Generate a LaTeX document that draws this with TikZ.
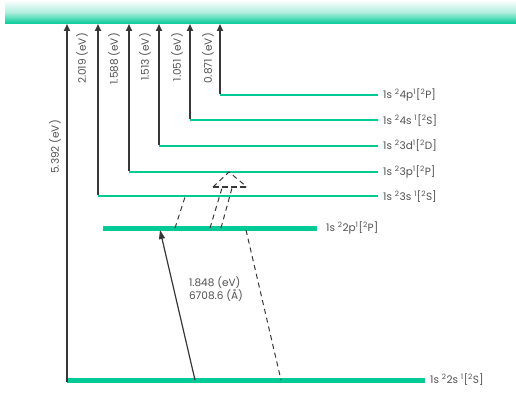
\documentclass[tikz,border=0pt]{standalone}
\usepackage{fontspec}
\setmainfont{Poppins}
\usetikzlibrary{arrows.meta}
\definecolor{lvlgreen}{RGB}{0,202,150}
\definecolor{ink}{RGB}{55,55,55}
\definecolor{txt}{RGB}{80,80,80}

\tikzset{
  level/.style={draw=lvlgreen, line width=2pt},
  ground/.style={draw=lvlgreen, line width=5pt},
  ion/.style={draw=ink, line width=1.6pt, -{Triangle[length=7pt,width=6pt]}},
  trans/.style={draw=ink, line width=1pt, dashed, dash pattern=on 5pt off 4pt},
  lab/.style={anchor=west, text=txt, inner sep=0pt},
  elab/.style={rotate=90, anchor=east, text=txt, inner sep=0pt}
}

\begin{document}
\begin{tikzpicture}[x=1pt, y=-1pt, font=\fontsize{10.5}{12}\selectfont]
    \useasboundingbox (0,0) rectangle (516,393);
    \shade [top color=white, bottom color=lvlgreen, middle color=lvlgreen!30] (5,0) rectangle (516,24);
    \coordinate (band) at (5,24);

    % levels
    \coordinate (s2) at (67, 380);
    \coordinate (s2e) at (425, 380);
    \coordinate (p2) at (103, 228);
    \coordinate (p2e) at (317, 228);
    \coordinate (s3) at (98, 196);
    \coordinate (s3e) at (378, 196);
    \coordinate (p3) at (129, 172);
    \coordinate (p3e) at (378, 172);
    \coordinate (d3) at (159, 146);
    \coordinate (d3e) at (378, 146);
    \coordinate (s4) at (190, 120);
    \coordinate (s4e) at (378, 120);
    \coordinate (p4) at (220, 95);
    \coordinate (p4e) at (378, 95);

    \draw [ground] (s2) -- (s2e);
    \draw [ground] (p2) -- (p2e);
    \draw [level] (s3) -- (s3e);
    \draw [level] (p3) -- (p3e);
    \draw [level] (d3) -- (d3e);
    \draw [level] (s4) -- (s4e);
    \draw [level] (p4) -- (p4e);

    \node [lab] (s2l) at (430, 380) {1s \textsuperscript{2}2s \textsuperscript{1}[\textsuperscript{2}S]};
    \node [lab] (p2l) at (326, 228) {1s \textsuperscript{2}2p\textsuperscript{1}[\textsuperscript{2}P]};
    \node [lab] (s3l) at (383, 197) {1s \textsuperscript{2}3s \textsuperscript{1}[\textsuperscript{2}S]};
    \node [lab] (p3l) at (383, 172) {1s \textsuperscript{2}3p\textsuperscript{1}[\textsuperscript{2}P]};
    \node [lab] (d3l) at (383, 146) {1s \textsuperscript{2}3d\textsuperscript{1}[\textsuperscript{2}D]};
    \node [lab] (s4l) at (383, 121) {1s \textsuperscript{2}4s \textsuperscript{1}[\textsuperscript{2}S]};
    \node [lab] (p4l) at (383, 95) {1s \textsuperscript{2}4p\textsuperscript{1}[\textsuperscript{2}P]};

    % ionisation arrows
    \draw [ion] ([yshift=-2pt]s2) -- (s2 |- band);
    \draw [ion] ([yshift=1pt]s3) -- (s3 |- band);
    \draw [ion] ([yshift=1pt]p3) -- (p3 |- band);
    \draw [ion] ([yshift=1pt]d3) -- (d3 |- band);
    \draw [ion] ([yshift=1pt]s4) -- (s4 |- band);
    \draw [ion] ([yshift=1pt]p4) -- (p4 |- band);

    \node [elab] (es2) at (55, 120) {5.392 (eV)};
    \node [elab] (es3) at (82, 33) {2.019 (eV)};
    \node [elab] (ep3) at (114, 33) {1.588 (eV)};
    \node [elab] (ed3) at (145, 33) {1.513 (eV)};
    \node [elab] (es4) at (177, 33) {1.051 (eV)};
    \node [elab] (ep4) at (208, 33) {0.871 (eV)};

    % resonance line
    \coordinate (r0) at (195, 380);
    \coordinate (r1) at (160, 230);
    \draw [draw=ink, line width=1.2pt, -{Triangle[length=9pt,width=6pt]}] (r0) -- (r1);
    \node [text=txt, align=left, inner sep=0pt] (rl) at (216, 289) {1.848 (eV)\\6708.6 (Å)};

    % other transitions
    \coordinate (a0) at (175, 228);
    \coordinate (a1) at (185, 197);
    \coordinate (b0) at (210, 228);
    \coordinate (b1) at (222, 188);
    \coordinate (c0) at (221, 228);
    \coordinate (c1) at (232, 188);
    \coordinate (h0) at (213, 187);
    \coordinate (h1) at (229, 172);
    \coordinate (h2) at (247, 187);
    \coordinate (e0) at (246, 230);
    \coordinate (e1) at (281, 380);
    \draw [trans] (a0) -- (a1);
    \draw [trans] (b0) -- (b1);
    \draw [trans] (c0) -- (c1);
    \draw [trans] (h0) -- (h1) -- (h2);
    \draw [trans, line width=1.8pt, dash pattern=on 6pt off 3pt] (h0) -- (h2);
    \draw [trans] (e0) -- (e1);
\end{tikzpicture}
\end{document}
